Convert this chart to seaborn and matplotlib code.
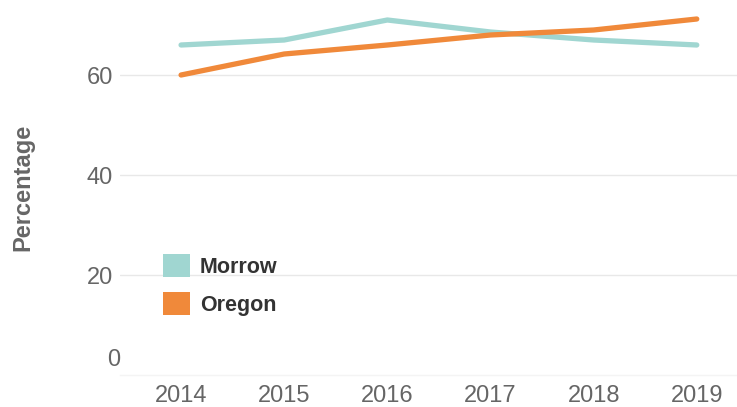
import matplotlib
matplotlib.use("Agg")
import matplotlib.pyplot as plt
import seaborn as sns
import pandas as pd
from matplotlib.patches import Patch

sns.set_style("white")
plt.rcParams["font.family"] = ["Liberation Sans", "DejaVu Sans"]

years = ["2014", "2015", "2016", "2017", "2018", "2019"]
morrow = [66, 67, 71, 68.6, 67, 66]
oregon = [60, 64.2, 66, 68, 69, 71.2]
series = ["Morrow", "Oregon"]
colors = {"Morrow": "#a0d6d1", "Oregon": "#f0893a"}

df = pd.DataFrame({
    "year": years * 2,
    "value": morrow + oregon,
    "area": ["Morrow"] * len(years) + ["Oregon"] * len(years),
})

W, H = 737, 407
fig = plt.figure(figsize=(W / 100, H / 100), dpi=100)
# axes: left edge x=120px, bottom at y=375px (from top), top at figure top
ax = fig.add_axes([120 / W, (H - 375) / H, 1 - 120 / W, 375 / H])

sns.lineplot(data=df, x="year", y="value", hue="area", palette=colors,
             linewidth=3.8, legend=False, ax=ax, solid_capstyle="round")

ax.set_xlim(-0.592, 5.39)
ax.set_ylim(0, 75)

# y axis
ax.set_yticks([20, 40, 60])
ax.yaxis.grid(True, color="#e8e8e8", linewidth=1)
ax.tick_params(axis="y", length=0, pad=5, labelsize=17, labelcolor="#666666")
ax.text(-0.0, 3, "0", transform=ax.get_yaxis_transform(), ha="right", va="center",
        fontsize=17, color="#666666")
ax.set_ylabel("Percentage", fontsize=17, fontweight="bold", color="#666666", labelpad=38)

# x axis
ax.set_xticks(range(len(years)))
ax.set_xticklabels(years)
ax.set_xticks([i - 0.5 for i in range(len(years))], minor=True)
ax.tick_params(axis="x", which="major", length=0, pad=7, labelsize=17, labelcolor="#666666")
ax.tick_params(axis="x", which="minor", length=8, width=1, color="#d8d8d8", direction="out")
ax.set_xlabel("")

for s in ["top", "right", "left"]:
    ax.spines[s].set_visible(False)
ax.spines["bottom"].set_color("#f4f4f4")
ax.spines["bottom"].set_linewidth(1)

# legend with square swatches
handles = [Patch(facecolor=colors[s], edgecolor="none", label=s) for s in series]
leg = fig.legend(handles=handles, loc="upper left", bbox_to_anchor=(144 / W, 1 - 235 / H),
                 frameon=False, handlelength=1.25, handleheight=1.25, handletextpad=0.45,
                 labelspacing=0.65, prop={"size": 15.5, "weight": "bold"})
for t in leg.get_texts():
    t.set_color("#333333")

fig.savefig("out.png", dpi=100)
